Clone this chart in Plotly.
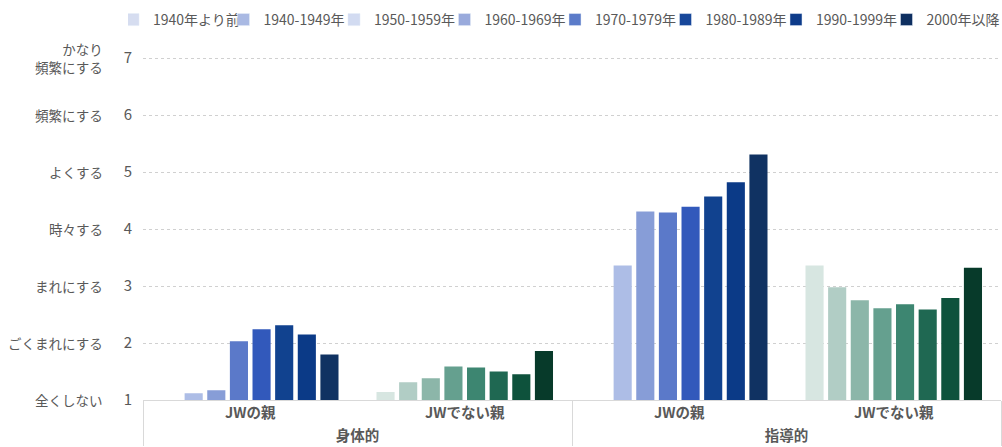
import plotly.graph_objects as go

# ---- data ----
eras = ["1940年より前", "1940-1949年", "1950-1959年", "1960-1969年",
        "1970-1979年", "1980-1989年", "1990-1999年", "2000年以降"]
outer = ["身体的", "身体的", "指導的", "指導的"]
inner = ["JWの親", "JWでない親", "JWの親", "JWでない親"]

# values per era, order of groups: 身体的/JW, 身体的/非JW, 指導的/JW, 指導的/非JW
v_pre1940 = [None, 1.14, None, 3.36]
v_1940s = [1.12, 1.31, 3.36, 2.98]
v_1950s = [1.17, 1.38, 4.31, 2.75]
v_1960s = [2.03, 1.59, 4.29, 2.61]
v_1970s = [2.24, 1.57, 4.39, 2.68]
v_1980s = [2.31, 1.50, 4.57, 2.59]
v_1990s = [2.15, 1.45, 4.82, 2.79]
v_2000s = [1.80, 1.86, 5.31, 3.32]
values = [v_pre1940, v_1940s, v_1950s, v_1960s, v_1970s, v_1980s, v_1990s, v_2000s]

y_ticks = [1, 2, 3, 4, 5, 6, 7]
y_labels = ["全くしない", "ごくまれにする", "まれにする", "時々する",
            "よくする", "頻繁にする", "かなり<br>頻繁にする"]

# ---- styles ----
blue = ["#c9d3ee", "#adbde6", "#879dd7", "#5b79c9", "#3259bb", "#11428f", "#0b3a87", "#103262"]
green = ["#d7e6e1", "#b1cdc5", "#8cb6a9", "#65a08f", "#3d8671", "#1f6852", "#0e523c", "#073a2a"]
legend_colors = ["#d6ddf0", "#a9b9e3", "#d2dbf1", "#99aadc", "#5b7bc9", "#17479a", "#0d3b8a", "#0e2f60"]

FONT = "Noto Sans CJK JP"
GRAY = "#595959"

fig = go.Figure()
for i, (name, vals) in enumerate(zip(eras, values)):
    colors = [blue[i], green[i], blue[i], green[i]]
    fig.add_trace(go.Bar(
        x=[outer, inner], y=vals, name=name,
        marker=dict(color=colors, line=dict(width=0)),
        showlegend=False,
    ))

# legend-only traces on a hidden subplot
for i, name in enumerate(eras):
    fig.add_trace(go.Bar(
        x=["a"], y=[None], name=name, xaxis="x2", yaxis="y2",
        marker=dict(color=legend_colors[i]), showlegend=True,
    ))

fig.update_layout(
    width=1002, height=447,
    margin=dict(l=143, r=1, t=57, b=47, autoexpand=False),
    paper_bgcolor="white", plot_bgcolor="white",
    font=dict(family=FONT, color=GRAY, size=13),
    barmode="group", bargap=0.156, bargroupgap=0.2,
    legend=dict(
        orientation="h", indentation=-15,
        x=-0.0175, xanchor="left", y=1.108, yanchor="middle",
        font=dict(size=14, color=GRAY, family=FONT),
        entrywidth=80.5, entrywidthmode="pixels",
        itemclick=False, itemdoubleclick=False,
        traceorder="normal",
    ),
    xaxis=dict(
        type="multicategory", automargin=False,
        showline=True, linecolor="#d9d9d9", linewidth=1,
        showdividers=True, dividercolor="#d9d9d9", dividerwidth=1,
        tickfont=dict(size=14.5, color=GRAY, family=FONT, weight="bold"),
        ticks="", showgrid=False, zeroline=False,
    ),
    yaxis=dict(
        range=[1, 7.02], tickvals=y_ticks, ticktext=[str(t) for t in y_ticks],
        automargin=False,
        showgrid=True, gridcolor="#d0d0d0", griddash="dot", gridwidth=1,
        zeroline=False, showline=False, ticks="",
        tickfont=dict(size=15, color=GRAY, family=FONT),
        ticklabelstandoff=10,
    ),
    xaxis2=dict(overlaying="x", visible=False),
    yaxis2=dict(overlaying="y", visible=False, range=[0, 1]),
)

for t, lab in zip(y_ticks, y_labels):
    fig.add_annotation(
        x=0, xref="paper", xanchor="right", xshift=-38,
        y=t, yref="y", yanchor="middle",
        text=lab, showarrow=False, align="right",
        font=dict(size=13.5, color=GRAY, family=FONT),
    )

fig.write_html("out.html", config={"displayModeBar": False},
               post_script="document.body.style.margin='0';")
